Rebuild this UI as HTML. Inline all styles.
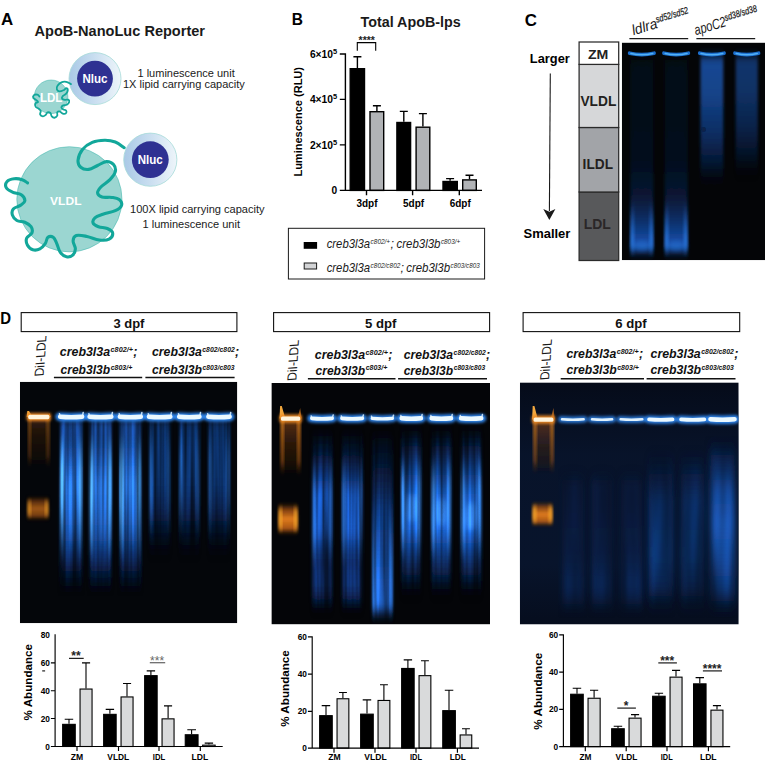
<!DOCTYPE html>
<html lang="en"><head><meta charset="utf-8"><title>ApoB-NanoLuc Reporter figure</title>
<style>
html,body{margin:0;padding:0;background:#fff;}
body{width:765px;height:761px;overflow:hidden;}
svg{display:block;font-family:"Liberation Sans", "DejaVu Sans", sans-serif;}
</style></head><body>
<svg width="765" height="761" viewBox="0 0 765 761">
<rect width="765" height="761" fill="#fff"/>

<defs>
<radialGradient id="halo" cx="50%" cy="50%" r="50%">
  <stop offset="0" stop-color="#9fc3e6"/><stop offset="0.62" stop-color="#b7d3ec"/>
  <stop offset="0.85" stop-color="#dbe9f5"/><stop offset="1" stop-color="#eef6fa"/>
</radialGradient>
<filter id="b1" x="-20%" y="-20%" width="140%" height="140%"><feGaussianBlur stdDeviation="0.6"/></filter>
<filter id="b2" x="-30%" y="-30%" width="160%" height="160%"><feGaussianBlur stdDeviation="1.4"/></filter>
<filter id="b3" x="-30%" y="-30%" width="160%" height="160%"><feGaussianBlur stdDeviation="2.5"/></filter>
<filter id="b4" x="-40%" y="-40%" width="180%" height="180%"><feGaussianBlur stdDeviation="4"/></filter>
<filter id="bx" x="-40%" y="-10%" width="180%" height="120%"><feGaussianBlur stdDeviation="1.7 5"/></filter>
<filter id="u1" filterUnits="userSpaceOnUse" x="0" y="370" width="765" height="270"><feGaussianBlur stdDeviation="0.7"/></filter>
<filter id="u2" filterUnits="userSpaceOnUse" x="0" y="370" width="765" height="270"><feGaussianBlur stdDeviation="1.8"/></filter>
<filter id="uc1" filterUnits="userSpaceOnUse" x="615" y="35" width="150" height="235"><feGaussianBlur stdDeviation="0.6"/></filter>
<filter id="bx3" x="-60%" y="-10%" width="220%" height="120%"><feGaussianBlur stdDeviation="3.2 6"/></filter>
<filter id="streak" x="-2%" y="-2%" width="104%" height="104%" color-interpolation-filters="sRGB">
 <feTurbulence type="fractalNoise" baseFrequency="0.22 0.004" numOctaves="2" seed="7" result="n"/>
 <feColorMatrix in="n" type="matrix" values="2.2 0 0 0 -0.6  2.2 0 0 0 -0.6  2.2 0 0 0 -0.6  0 0 0 0 1" result="ng"/>
 <feComposite in="SourceGraphic" in2="ng" operator="arithmetic" k1="0.9" k2="0.55" k3="0" k4="0"/>
</filter>
<filter id="streak3" x="-2%" y="-2%" width="104%" height="104%" color-interpolation-filters="sRGB">
 <feTurbulence type="fractalNoise" baseFrequency="0.07 0.006" numOctaves="2" seed="11" result="n"/>
 <feColorMatrix in="n" type="matrix" values="1.6 0 0 0 -0.3  1.6 0 0 0 -0.3  1.6 0 0 0 -0.3  0 0 0 0 1" result="ng"/>
 <feComposite in="SourceGraphic" in2="ng" operator="arithmetic" k1="0.7" k2="0.65" k3="0" k4="0"/>
</filter>
</defs>

<defs><linearGradient id="haloL" x1="0" y1="0" x2="1" y2="0">
<stop offset="0" stop-color="#a9c9e6"/><stop offset="0.45" stop-color="#c6dcef"/><stop offset="1" stop-color="#eef5fa"/>
</linearGradient></defs>
<text x="1.0" y="25.3" font-size="16.50" font-weight="bold" font-style="normal" fill="#000" text-anchor="start" textLength="12.2" lengthAdjust="spacingAndGlyphs" >A</text>
<text x="34.5" y="36.3" font-size="15.00" font-weight="bold" font-style="normal" fill="#1a1a1a" text-anchor="start" textLength="170.5" lengthAdjust="spacingAndGlyphs" >ApoB-NanoLuc Reporter</text>
<circle cx="51.1" cy="96.8" r="16.8" fill="#9bd6d1" stroke="#3bb5aa" stroke-width="0.5"/>
<circle cx="95" cy="78.6" r="26" fill="url(#haloL)" stroke="#a6dbd8" stroke-width="0.8"/>
<circle cx="95" cy="78.6" r="17.9" fill="#2e3192"/>
<path d="M70.98 84.12 C70.05 83.67 68.03 82.13 66.17 81.78 C64.32 81.44 63.02 81.62 61.37 82.33 C59.73 83.05 58.54 84.16 57.67 85.49 C56.79 86.82 56.52 88.05 56.84 89.19 C57.16 90.34 58.04 91.18 59.31 91.39 C60.59 91.60 62.10 90.90 63.43 90.29 C64.76 89.68 65.33 88.23 66.17 88.23 C67.02 88.23 67.82 89.23 67.82 90.29 C67.82 91.35 67.16 92.61 66.17 93.72 C65.19 94.84 63.54 95.08 62.74 96.06 C61.95 97.04 61.66 98.06 62.06 98.80 C62.46 99.54 63.61 99.74 64.80 99.90 C66.00 100.06 67.38 99.23 68.23 99.63 C69.08 100.02 69.46 100.98 69.19 101.96 C68.93 102.94 68.03 104.04 66.86 104.70 C65.69 105.37 64.22 104.86 63.16 105.39 C62.09 105.92 61.32 106.65 61.37 107.45 C61.42 108.24 62.50 108.90 63.43 109.51 C64.36 110.12 65.70 109.86 66.17 110.61 C66.65 111.35 66.56 112.77 65.90 113.35 C65.24 113.93 63.88 113.97 62.74 113.62 C61.60 113.28 61.06 111.83 60.00 111.57 C58.94 111.30 57.78 111.46 57.25 112.25 C56.72 113.05 57.78 114.62 57.25 115.68 C56.72 116.74 55.57 117.61 54.51 117.74 C53.45 117.87 52.56 117.30 51.76 116.37 C50.97 115.44 51.19 113.73 50.39 112.94 C49.60 112.14 48.57 111.85 47.65 112.25 C46.72 112.65 46.52 114.20 45.59 115.00 C44.66 115.79 43.90 116.50 42.84 116.37 C41.78 116.24 40.50 115.37 40.10 114.31 C39.70 113.25 41.05 111.94 40.78 110.88 C40.52 109.82 39.71 109.62 38.72 108.82 C37.74 108.02 36.37 107.82 35.71 106.76 C35.04 105.70 34.84 104.26 35.29 103.33 C35.74 102.40 37.91 102.62 38.04 101.96 C38.17 101.30 36.91 100.70 35.98 99.90 C35.05 99.10 33.63 98.77 33.23 97.84 C32.84 96.91 33.13 95.71 33.92 95.10 C34.72 94.49 36.29 94.42 37.35 94.68 C38.41 94.95 39.01 96.12 39.41 96.47" fill="none" stroke="#12a79a" stroke-width="1.8" stroke-linecap="round" stroke-linejoin="round"/>
<text x="51.2" y="102.3" font-size="12.30" font-weight="bold" font-style="normal" fill="#fff" text-anchor="middle" textLength="22.5" lengthAdjust="spacingAndGlyphs" >LDL</text>
<text x="95.0" y="82.6" font-size="12.00" font-weight="bold" font-style="normal" fill="#fff" text-anchor="middle" textLength="25.0" lengthAdjust="spacingAndGlyphs" >Nluc</text>
<text x="137.5" y="76.6" font-size="10.80" font-weight="normal" font-style="normal" fill="#1a1a1a" text-anchor="start" textLength="97.2" lengthAdjust="spacingAndGlyphs" >1 luminescence unit</text>
<text x="123.0" y="88.4" font-size="10.80" font-weight="normal" font-style="normal" fill="#1a1a1a" text-anchor="start" textLength="121.8" lengthAdjust="spacingAndGlyphs" >1X lipid carrying capacity</text>
<circle cx="69.4" cy="199.3" r="52.6" fill="#9bd6d1" stroke="#3bb5aa" stroke-width="0.5"/>
<circle cx="150.3" cy="159.7" r="26.6" fill="url(#haloL)" stroke="#a6dbd8" stroke-width="0.8"/>
<circle cx="150.3" cy="159.7" r="18.4" fill="#2e3192"/>
<path d="M124.18 147.74 C122.46 146.64 119.08 143.50 115.31 142.06 C111.54 140.62 109.12 140.22 104.67 140.29 C100.21 140.36 96.53 140.63 92.25 142.42 C87.96 144.20 85.23 146.08 82.49 149.51 C79.75 152.94 78.40 156.73 78.06 160.16 C77.71 163.59 78.66 165.47 80.72 167.25 C82.77 169.04 85.44 169.73 88.70 169.38 C91.96 169.04 94.14 166.99 97.57 165.48 C101.00 163.97 103.35 161.75 106.44 161.58 C109.53 161.41 111.82 162.64 113.54 164.59 C115.25 166.55 116.00 168.77 115.31 171.69 C114.62 174.60 112.73 176.76 109.99 179.67 C107.24 182.59 103.52 184.20 101.12 186.77 C98.72 189.34 97.40 190.99 97.57 192.98 C97.74 194.97 99.26 196.20 102.00 197.06 C104.75 197.91 108.43 196.93 111.76 197.41 C115.09 197.89 117.33 198.00 119.21 199.54 C121.10 201.08 122.27 203.23 121.52 205.39 C120.76 207.56 118.91 209.00 115.31 210.72 C111.71 212.43 106.84 212.89 102.89 214.26 C98.95 215.64 96.79 216.10 94.91 217.81 C93.02 219.53 92.45 221.42 93.13 223.13 C93.82 224.85 95.71 225.65 98.46 226.68 C101.20 227.71 104.58 227.26 107.33 228.46 C110.07 229.66 112.31 230.83 112.65 232.89 C112.99 234.95 111.67 237.73 109.10 239.10 C106.53 240.47 103.63 240.50 99.34 239.99 C95.06 239.47 91.38 237.30 86.93 236.44 C82.47 235.58 78.96 234.70 76.28 235.55 C73.61 236.41 73.26 238.30 73.09 240.87 C72.92 243.45 75.46 246.11 75.39 248.86 C75.33 251.60 74.45 253.52 72.73 255.07 C71.02 256.61 68.93 257.35 66.52 256.84 C64.12 256.33 62.20 254.98 60.32 252.41 C58.43 249.83 58.14 246.45 56.77 243.54 C55.40 240.62 54.93 238.53 53.22 237.33 C51.50 236.13 49.44 236.13 47.90 237.33 C46.35 238.53 46.78 241.31 45.24 243.54 C43.69 245.76 42.32 247.66 39.91 248.86 C37.51 250.06 35.22 250.43 32.82 249.74 C30.42 249.06 28.70 247.54 27.50 245.31 C26.30 243.08 25.75 240.61 26.61 238.21 C27.47 235.81 31.07 235.12 31.93 232.89 C32.79 230.66 32.42 228.74 31.04 226.68 C29.67 224.62 27.58 223.45 24.84 222.25 C22.09 221.05 19.25 221.85 16.85 220.47 C14.45 219.10 13.10 217.38 12.42 215.15 C11.73 212.92 11.76 210.83 13.30 208.94 C14.85 207.06 18.17 206.94 20.40 205.39 C22.63 203.85 24.66 203.02 24.84 200.96 C25.01 198.90 23.69 196.47 21.29 194.75 C18.89 193.04 15.33 193.46 12.42 192.09 C9.50 190.72 7.24 189.71 6.21 187.65 C5.18 185.60 5.55 183.16 7.10 181.45 C8.64 179.73 11.28 179.13 14.19 178.78 C17.11 178.44 19.60 178.88 22.17 179.67 C24.75 180.46 26.47 182.25 27.50 182.86" fill="none" stroke="#12a79a" stroke-width="3.1" stroke-linecap="round" stroke-linejoin="round"/>
<text x="65.8" y="204.9" font-size="11.70" font-weight="bold" font-style="normal" fill="#fff" text-anchor="middle" textLength="31.4" lengthAdjust="spacingAndGlyphs" >VLDL</text>
<text x="150.3" y="163.8" font-size="12.00" font-weight="bold" font-style="normal" fill="#fff" text-anchor="middle" textLength="25.0" lengthAdjust="spacingAndGlyphs" >Nluc</text>
<text x="130.0" y="212.8" font-size="10.80" font-weight="normal" font-style="normal" fill="#1a1a1a" text-anchor="start" textLength="134.6" lengthAdjust="spacingAndGlyphs" >100X lipid carrying capacity</text>
<text x="142.5" y="227.6" font-size="10.80" font-weight="normal" font-style="normal" fill="#1a1a1a" text-anchor="start" textLength="97.5" lengthAdjust="spacingAndGlyphs" >1 luminescence unit</text>
<text x="291.8" y="25.3" font-size="16.50" font-weight="bold" font-style="normal" fill="#000" text-anchor="start" textLength="11.2" lengthAdjust="spacingAndGlyphs" >B</text>
<text x="360.5" y="26.6" font-size="13.80" font-weight="bold" font-style="normal" fill="#1a1a1a" text-anchor="start" textLength="100.2" lengthAdjust="spacingAndGlyphs" >Total ApoB-lps</text>
<path d="M357.4 68.0 V56.8 M353.4 56.8 H361.4" stroke="#000" stroke-width="1.40" fill="none"/>
<rect x="350.20" y="68.70" width="14.30" height="121.70" fill="#000" stroke="#000" stroke-width="1.40"/>
<path d="M376.9 111.0 V105.7 M372.9 105.7 H380.9" stroke="#000" stroke-width="1.40" fill="none"/>
<rect x="370.00" y="111.70" width="13.70" height="78.70" fill="#b1b3b6" stroke="#000" stroke-width="1.40"/>
<path d="M403.8 121.8 V111.4 M399.8 111.4 H407.8" stroke="#000" stroke-width="1.40" fill="none"/>
<rect x="396.90" y="122.50" width="13.70" height="67.90" fill="#000" stroke="#000" stroke-width="1.40"/>
<path d="M422.9 126.5 V113.6 M418.9 113.6 H426.9" stroke="#000" stroke-width="1.40" fill="none"/>
<rect x="416.10" y="127.20" width="13.70" height="63.20" fill="#b1b3b6" stroke="#000" stroke-width="1.40"/>
<path d="M450.1 180.8 V178.6 M446.1 178.6 H454.1" stroke="#000" stroke-width="1.40" fill="none"/>
<rect x="443.00" y="181.50" width="14.30" height="8.90" fill="#000" stroke="#000" stroke-width="1.40"/>
<path d="M469.5 179.2 V175.3 M465.5 175.3 H473.5" stroke="#000" stroke-width="1.40" fill="none"/>
<rect x="462.70" y="179.90" width="13.60" height="10.50" fill="#b1b3b6" stroke="#000" stroke-width="1.40"/>
<path d="M345.4 53.3 V190.4 M339.8 190.4 H482 M339.8 54 H345.4 M339.8 99.4 H345.4 M339.8 144.9 H345.4 M366.5 190.4 V195.2 M412.6 190.4 V195.2 M459.3 190.4 V195.2" stroke="#000" stroke-width="1.4" fill="none"/>
<text x="337.2" y="57.6" font-size="10.2" font-weight="bold" text-anchor="end" textLength="27.3" lengthAdjust="spacingAndGlyphs">6×10<tspan font-size="7.4" dy="-3.8">5</tspan></text>
<text x="337.2" y="103.0" font-size="10.2" font-weight="bold" text-anchor="end" textLength="27.3" lengthAdjust="spacingAndGlyphs">4×10<tspan font-size="7.4" dy="-3.8">5</tspan></text>
<text x="337.2" y="148.5" font-size="10.2" font-weight="bold" text-anchor="end" textLength="27.3" lengthAdjust="spacingAndGlyphs">2×10<tspan font-size="7.4" dy="-3.8">5</tspan></text>
<text x="337.2" y="194.2" font-size="10.20" font-weight="bold" font-style="normal" fill="#000" text-anchor="end" >0</text>
<text x="356.4" y="207.4" font-size="10.50" font-weight="bold" font-style="normal" fill="#000" text-anchor="start" textLength="21.1" lengthAdjust="spacingAndGlyphs" >3dpf</text>
<text x="403.0" y="207.4" font-size="10.50" font-weight="bold" font-style="normal" fill="#000" text-anchor="start" textLength="21.1" lengthAdjust="spacingAndGlyphs" >5dpf</text>
<text x="449.7" y="207.4" font-size="10.50" font-weight="bold" font-style="normal" fill="#000" text-anchor="start" textLength="21.1" lengthAdjust="spacingAndGlyphs" >6dpf</text>
<text transform="translate(302.3 176.6) rotate(-90)" font-size="11" font-weight="bold" textLength="109.6" lengthAdjust="spacingAndGlyphs">Luminescence (RLU)</text>
<path d="M357.3 50.8 V42.6 H375.7 V50.8" stroke="#000" stroke-width="1.1" fill="none"/>
<text x="366.7" y="43.8" font-size="10.40" font-weight="bold" font-style="normal" fill="#222" text-anchor="middle" >****</text>
<rect x="288.4" y="228.3" width="196.2" height="50.7" fill="#fff" stroke="#1a1a1a" stroke-width="1"/>
<rect x="303.7" y="242.0" width="13.4" height="6.8" fill="#000"/>
<rect x="304.2" y="263.0" width="12.4" height="6.0" fill="#d3d4d6" stroke="#1a1a1a" stroke-width="1"/>
<text y="248.3" font-style="italic" font-weight="normal" fill="#1a1a1a" font-size="12.4"><tspan x="326.7" textLength="43.4" lengthAdjust="spacingAndGlyphs">creb3l3a</tspan><tspan x="370.6" dy="-4.2" font-size="7.2" textLength="19.5" lengthAdjust="spacingAndGlyphs">c802/+</tspan><tspan x="390.4" dy="4.2">;</tspan><tspan x="396.5" textLength="43.9" lengthAdjust="spacingAndGlyphs">creb3l3b</tspan><tspan x="440.9" dy="-4.2" font-size="7.2" textLength="19.3" lengthAdjust="spacingAndGlyphs">c803/+</tspan></text>
<text y="272.2" font-style="italic" font-weight="normal" fill="#1a1a1a" font-size="12.4"><tspan x="326.7" textLength="43.4" lengthAdjust="spacingAndGlyphs">creb3l3a</tspan><tspan x="370.6" dy="-4.2" font-size="7.2" textLength="29.7" lengthAdjust="spacingAndGlyphs">c802/c802</tspan><tspan x="400.6" dy="4.2">;</tspan><tspan x="406.2" textLength="43.9" lengthAdjust="spacingAndGlyphs">creb3l3b</tspan><tspan x="450.6" dy="-4.2" font-size="7.2" textLength="29.1" lengthAdjust="spacingAndGlyphs">c803/c803</tspan></text>
<text x="524.8" y="25.5" font-size="16.50" font-weight="bold" font-style="normal" fill="#000" text-anchor="start" textLength="12.2" lengthAdjust="spacingAndGlyphs" >C</text>
<text x="529.8" y="62.9" font-size="12.40" font-weight="bold" font-style="normal" fill="#000" text-anchor="start" textLength="40.0" lengthAdjust="spacingAndGlyphs" >Larger</text>
<text x="523.5" y="238.0" font-size="12.40" font-weight="bold" font-style="normal" fill="#000" text-anchor="start" textLength="46.9" lengthAdjust="spacingAndGlyphs" >Smaller</text>
<path d="M550.3 73.4 L549.4 211" stroke="#1a1a1a" stroke-width="1.1" fill="none"/>
<path d="M543.3 209.0 L549.35 211.8 L555.4 209.0 L549.35 219.9 Z" fill="#1a1a1a"/>
<rect x="579.1" y="192.0" width="39.6" height="68.5" fill="#58595b" stroke="#2a2a2a" stroke-width="1.25"/>
<rect x="579.1" y="127.5" width="39.6" height="64.5" fill="#a2a4a8" stroke="#2a2a2a" stroke-width="1.25"/>
<rect x="579.1" y="64.4" width="39.6" height="63.1" fill="#d6d7d9" stroke="#2a2a2a" stroke-width="1.25"/>
<rect x="579.1" y="42.0" width="39.6" height="22.4" fill="#ffffff" stroke="#2a2a2a" stroke-width="1.25"/>
<text x="598.1" y="58.5" font-size="13.40" font-weight="bold" font-style="normal" fill="#222" text-anchor="middle" textLength="20.4" lengthAdjust="spacingAndGlyphs" >ZM</text>
<text x="598.4" y="106.2" font-size="14.40" font-weight="bold" font-style="normal" fill="#231f20" text-anchor="middle" textLength="35.9" lengthAdjust="spacingAndGlyphs" >VLDL</text>
<text x="597.8" y="168.6" font-size="14.40" font-weight="bold" font-style="normal" fill="#231f20" text-anchor="middle" textLength="30.4" lengthAdjust="spacingAndGlyphs" >ILDL</text>
<text x="597.2" y="229.0" font-size="14.40" font-weight="bold" font-style="normal" fill="#2a2627" text-anchor="middle" textLength="27.1" lengthAdjust="spacingAndGlyphs" >LDL</text>
<path d="M629.4 38.6 H688.2 M696.4 38.6 H755.2" stroke="#1a1a1a" stroke-width="1.3" fill="none"/>
<text transform="translate(633.4 35.3) rotate(-16.8)" font-style="italic" font-size="14.5" fill="#1a1a1a"><tspan textLength="26" lengthAdjust="spacingAndGlyphs">ldlra</tspan><tspan dy="-5.2" font-size="9.6" stroke="#1a1a1a" stroke-width="0.25" textLength="33.5" lengthAdjust="spacingAndGlyphs">sd52/sd52</tspan></text>
<text transform="translate(695.8 35.3) rotate(-16.8)" font-style="italic" font-size="14.5" fill="#1a1a1a"><tspan textLength="32.6" lengthAdjust="spacingAndGlyphs">apoC2</tspan><tspan dy="-5.2" font-size="9.6" stroke="#1a1a1a" stroke-width="0.25" textLength="33.5" lengthAdjust="spacingAndGlyphs">sd38/sd38</tspan></text>
<defs>
<clipPath id="clipC"><rect x="621.8" y="42.6" width="143.2" height="217.6"/></clipPath>
<linearGradient id="cL" x1="0" y1="0" x2="0" y2="1">
 <stop offset="0" stop-color="#0a1428" stop-opacity="0.45"/><stop offset="0.5" stop-color="#0a1630" stop-opacity="0.5"/>
 <stop offset="0.7" stop-color="#0b2250" stop-opacity="0.6"/><stop offset="0.84" stop-color="#0f3a80" stop-opacity="0.85"/>
 <stop offset="0.95" stop-color="#1650b0" stop-opacity="1"/><stop offset="1" stop-color="#0c2c66" stop-opacity="0.6"/>
</linearGradient>
<linearGradient id="cE" x1="0" y1="0" x2="0" y2="1">
 <stop offset="0" stop-color="#2a78e0" stop-opacity="0"/><stop offset="0.55" stop-color="#2a78e0" stop-opacity="0.7"/>
 <stop offset="0.9" stop-color="#2f84ec" stop-opacity="0.9"/><stop offset="1" stop-color="#2a78e0" stop-opacity="0"/>
</linearGradient>
<linearGradient id="cR" x1="0" y1="0" x2="0" y2="1">
 <stop offset="0" stop-color="#174c9c" stop-opacity="0.95"/><stop offset="0.3" stop-color="#15468f" stop-opacity="0.95"/>
 <stop offset="0.6" stop-color="#0e3472" stop-opacity="0.85"/><stop offset="0.82" stop-color="#082452" stop-opacity="0.6"/>
 <stop offset="1" stop-color="#040d20" stop-opacity="0"/>
</linearGradient>
</defs>
<g clip-path="url(#clipC)">
<rect x="621.8" y="42.6" width="143.2" height="217.6" fill="#040507"/>
<rect x="630.4" y="60" width="22.9" height="194" fill="url(#cL)" filter="url(#bx)"/>
<rect x="630.6" y="203" width="3.4" height="49" fill="url(#cE)" filter="url(#bx)"/>
<rect x="649.7" y="203" width="3.4" height="49" fill="url(#cE)" filter="url(#bx)"/>
<ellipse cx="641.8" cy="246" rx="9.9" ry="5" fill="#2a7ae2" opacity="0.6" filter="url(#b3)"/>
<rect x="664.7" y="60" width="22.9" height="194" fill="url(#cL)" filter="url(#bx)"/>
<rect x="664.9" y="203" width="3.4" height="49" fill="url(#cE)" filter="url(#bx)"/>
<rect x="684.0" y="203" width="3.4" height="49" fill="url(#cE)" filter="url(#bx)"/>
<ellipse cx="676.2" cy="246" rx="9.9" ry="5" fill="#2a7ae2" opacity="0.6" filter="url(#b3)"/>
<rect x="700.5" y="56" width="22.8" height="130" fill="url(#cR)" opacity="1.00" filter="url(#bx)"/>
<rect x="735.7" y="56" width="22.1" height="120" fill="url(#cR)" opacity="0.72" filter="url(#bx)"/>
<g filter="url(#uc1)">
<path d="M629.6 53.2 Q641.8 56.0 654.1 53.2" stroke="#1c6fd0" stroke-width="3.6" fill="none" stroke-linecap="round"/>
<path d="M630.9 53.6 Q641.8 56.0 652.8 53.6" stroke="#52b0f4" stroke-width="1.5" fill="none" stroke-linecap="round"/>
<path d="M663.9 53.2 Q676.2 56.0 688.4 53.2" stroke="#1c6fd0" stroke-width="3.6" fill="none" stroke-linecap="round"/>
<path d="M665.2 53.6 Q676.2 56.0 687.1 53.6" stroke="#52b0f4" stroke-width="1.5" fill="none" stroke-linecap="round"/>
<path d="M699.7 53.2 Q711.9 56.0 724.1 53.2" stroke="#1c6fd0" stroke-width="3.6" fill="none" stroke-linecap="round"/>
<path d="M701.0 53.6 Q711.9 56.0 722.8 53.6" stroke="#52b0f4" stroke-width="1.5" fill="none" stroke-linecap="round"/>
<path d="M734.9 53.2 Q746.8 56.0 758.6 53.2" stroke="#1c6fd0" stroke-width="3.6" fill="none" stroke-linecap="round"/>
<path d="M736.2 53.6 Q746.8 56.0 757.3 53.6" stroke="#52b0f4" stroke-width="1.5" fill="none" stroke-linecap="round"/>
</g>
<circle cx="703.6" cy="129.5" r="2.4" fill="#08204a" opacity="0.95" filter="url(#b1)"/>
</g>
<text x="0.3" y="323.5" font-size="16.50" font-weight="bold" font-style="normal" fill="#000" text-anchor="start" textLength="10.8" lengthAdjust="spacingAndGlyphs" >D</text>
<rect x="21.2" y="312.6" width="215.7" height="19" fill="#fff" stroke="#111" stroke-width="1.1"/>
<text x="113.4" y="327.8" font-size="13.40" font-weight="bold" font-style="normal" fill="#111" text-anchor="start" textLength="31.0" lengthAdjust="spacingAndGlyphs" >3 dpf</text>
<text transform="translate(43.6 376.1) rotate(-86) skewX(8)" font-size="13" fill="#1a1a1a" textLength="40.7" lengthAdjust="spacingAndGlyphs">DiI-LDL</text>
<text y="356.0" font-style="italic" font-weight="bold" fill="#111" font-size="12.6"><tspan x="59.8" textLength="50.3" lengthAdjust="spacingAndGlyphs">creb3l3a</tspan><tspan x="110.6" dy="-4.2" font-size="7.2" textLength="22.3" lengthAdjust="spacingAndGlyphs">c802/+</tspan><tspan x="133.2" dy="4.2">;</tspan></text>
<text y="373.9" font-style="italic" font-weight="bold" fill="#111" font-size="12.6"><tspan x="60.5" textLength="49.6" lengthAdjust="spacingAndGlyphs">creb3l3b</tspan><tspan x="110.7" dy="-4.4" font-size="7.2" textLength="21.6" lengthAdjust="spacingAndGlyphs">c803/+</tspan></text>
<text y="356.0" font-style="italic" font-weight="bold" fill="#111" font-size="12.6"><tspan x="152.0" textLength="49.8" lengthAdjust="spacingAndGlyphs">creb3l3a</tspan><tspan x="202.3" dy="-4.2" font-size="7.2" textLength="32.5" lengthAdjust="spacingAndGlyphs">c802/c802</tspan><tspan x="235.1" dy="4.2">;</tspan></text>
<text y="373.9" font-style="italic" font-weight="bold" fill="#111" font-size="12.6"><tspan x="152.0" textLength="50.0" lengthAdjust="spacingAndGlyphs">creb3l3b</tspan><tspan x="202.6" dy="-4.4" font-size="7.2" textLength="31.8" lengthAdjust="spacingAndGlyphs">c803/c803</tspan></text>
<path d="M53.9 377.5 H142.2 M145.4 377.5 H234.6" stroke="#111" stroke-width="1.4" fill="none"/>
<rect x="273.6" y="312.6" width="216.0" height="19" fill="#fff" stroke="#111" stroke-width="1.1"/>
<text x="365.1" y="327.8" font-size="13.40" font-weight="bold" font-style="normal" fill="#111" text-anchor="start" textLength="31.4" lengthAdjust="spacingAndGlyphs" >5 dpf</text>
<text transform="translate(296.2 380.5) rotate(-86) skewX(8)" font-size="13" fill="#1a1a1a" textLength="40.7" lengthAdjust="spacingAndGlyphs">DiI-LDL</text>
<text y="358.8" font-style="italic" font-weight="bold" fill="#111" font-size="12.6"><tspan x="314.8" textLength="50.3" lengthAdjust="spacingAndGlyphs">creb3l3a</tspan><tspan x="365.6" dy="-4.2" font-size="7.2" textLength="22.3" lengthAdjust="spacingAndGlyphs">c802/+</tspan><tspan x="388.2" dy="4.2">;</tspan></text>
<text y="374.5" font-style="italic" font-weight="bold" fill="#111" font-size="12.6"><tspan x="315.5" textLength="49.6" lengthAdjust="spacingAndGlyphs">creb3l3b</tspan><tspan x="365.7" dy="-4.4" font-size="7.2" textLength="21.6" lengthAdjust="spacingAndGlyphs">c803/+</tspan></text>
<text y="358.8" font-style="italic" font-weight="bold" fill="#111" font-size="12.6"><tspan x="403.7" textLength="49.4" lengthAdjust="spacingAndGlyphs">creb3l3a</tspan><tspan x="453.6" dy="-4.2" font-size="7.2" textLength="32.2" lengthAdjust="spacingAndGlyphs">c802/c802</tspan><tspan x="486.1" dy="4.2">;</tspan></text>
<text y="374.5" font-style="italic" font-weight="bold" fill="#111" font-size="12.6"><tspan x="403.7" textLength="49.4" lengthAdjust="spacingAndGlyphs">creb3l3b</tspan><tspan x="453.7" dy="-4.4" font-size="7.2" textLength="31.5" lengthAdjust="spacingAndGlyphs">c803/c803</tspan></text>
<path d="M307.9 378.8 H395.5 M398.1 378.8 H487.0" stroke="#111" stroke-width="1.4" fill="none"/>
<rect x="523.1" y="312.6" width="216.6" height="19" fill="#fff" stroke="#111" stroke-width="1.1"/>
<text x="615.2" y="327.8" font-size="13.40" font-weight="bold" font-style="normal" fill="#111" text-anchor="start" textLength="31.4" lengthAdjust="spacingAndGlyphs" >6 dpf</text>
<text transform="translate(549.1 379.8) rotate(-86) skewX(8)" font-size="13" fill="#1a1a1a" textLength="40.8" lengthAdjust="spacingAndGlyphs">DiI-LDL</text>
<text y="358.2" font-style="italic" font-weight="bold" fill="#111" font-size="12.6"><tspan x="566.5" textLength="49.7" lengthAdjust="spacingAndGlyphs">creb3l3a</tspan><tspan x="616.7" dy="-4.2" font-size="7.2" textLength="22.0" lengthAdjust="spacingAndGlyphs">c802/+</tspan><tspan x="639.0" dy="4.2">;</tspan></text>
<text y="374.3" font-style="italic" font-weight="bold" fill="#111" font-size="12.6"><tspan x="566.5" textLength="50.1" lengthAdjust="spacingAndGlyphs">creb3l3b</tspan><tspan x="617.2" dy="-4.4" font-size="7.2" textLength="21.8" lengthAdjust="spacingAndGlyphs">c803/+</tspan></text>
<text y="358.2" font-style="italic" font-weight="bold" fill="#111" font-size="12.6"><tspan x="650.5" textLength="50.2" lengthAdjust="spacingAndGlyphs">creb3l3a</tspan><tspan x="701.2" dy="-4.2" font-size="7.2" textLength="32.7" lengthAdjust="spacingAndGlyphs">c802/c802</tspan><tspan x="734.2" dy="4.2">;</tspan></text>
<text y="374.3" font-style="italic" font-weight="bold" fill="#111" font-size="12.6"><tspan x="650.5" textLength="50.5" lengthAdjust="spacingAndGlyphs">creb3l3b</tspan><tspan x="701.6" dy="-4.4" font-size="7.2" textLength="32.1" lengthAdjust="spacingAndGlyphs">c803/c803</tspan></text>
<path d="M560.7 378.8 H644.0 M646.6 378.8 H735.5" stroke="#111" stroke-width="1.4" fill="none"/>
<defs><linearGradient id="vg1" x1="0" y1="0" x2="0" y2="1"><stop offset="0.000" stop-color="#5cbafa" stop-opacity="0.00"/><stop offset="0.300" stop-color="#5cbafa" stop-opacity="1.00"/><stop offset="0.520" stop-color="#5cbafa" stop-opacity="1.00"/><stop offset="1.000" stop-color="#5cbafa" stop-opacity="0.00"/></linearGradient></defs>
<defs><linearGradient id="vg2" x1="0" y1="0" x2="0" y2="1"><stop offset="0.000" stop-color="#5cbafa" stop-opacity="0.00"/><stop offset="0.300" stop-color="#5cbafa" stop-opacity="0.75"/><stop offset="0.520" stop-color="#5cbafa" stop-opacity="0.75"/><stop offset="1.000" stop-color="#5cbafa" stop-opacity="0.00"/></linearGradient></defs>
<defs><linearGradient id="vg3" x1="0" y1="0" x2="0" y2="1"><stop offset="0.000" stop-color="#2d7be0" stop-opacity="0.00"/><stop offset="0.250" stop-color="#2d7be0" stop-opacity="0.35"/><stop offset="0.750" stop-color="#2d7be0" stop-opacity="0.35"/><stop offset="1.000" stop-color="#2d7be0" stop-opacity="0.00"/></linearGradient></defs>
<defs><linearGradient id="vg4" x1="0" y1="0" x2="0" y2="1"><stop offset="0.000" stop-color="#5cbafa" stop-opacity="0.00"/><stop offset="0.300" stop-color="#5cbafa" stop-opacity="1.00"/><stop offset="0.520" stop-color="#5cbafa" stop-opacity="1.00"/><stop offset="1.000" stop-color="#5cbafa" stop-opacity="0.00"/></linearGradient></defs>
<defs><linearGradient id="vg5" x1="0" y1="0" x2="0" y2="1"><stop offset="0.000" stop-color="#5cbafa" stop-opacity="0.00"/><stop offset="0.300" stop-color="#5cbafa" stop-opacity="0.75"/><stop offset="0.520" stop-color="#5cbafa" stop-opacity="0.75"/><stop offset="1.000" stop-color="#5cbafa" stop-opacity="0.00"/></linearGradient></defs>
<defs><linearGradient id="vg6" x1="0" y1="0" x2="0" y2="1"><stop offset="0.000" stop-color="#2d7be0" stop-opacity="0.00"/><stop offset="0.250" stop-color="#2d7be0" stop-opacity="0.35"/><stop offset="0.750" stop-color="#2d7be0" stop-opacity="0.35"/><stop offset="1.000" stop-color="#2d7be0" stop-opacity="0.00"/></linearGradient></defs>
<defs><linearGradient id="vg7" x1="0" y1="0" x2="0" y2="1"><stop offset="0.000" stop-color="#5cbafa" stop-opacity="0.00"/><stop offset="0.300" stop-color="#5cbafa" stop-opacity="1.00"/><stop offset="0.520" stop-color="#5cbafa" stop-opacity="1.00"/><stop offset="1.000" stop-color="#5cbafa" stop-opacity="0.00"/></linearGradient></defs>
<defs><linearGradient id="vg8" x1="0" y1="0" x2="0" y2="1"><stop offset="0.000" stop-color="#5cbafa" stop-opacity="0.00"/><stop offset="0.300" stop-color="#5cbafa" stop-opacity="0.75"/><stop offset="0.520" stop-color="#5cbafa" stop-opacity="0.75"/><stop offset="1.000" stop-color="#5cbafa" stop-opacity="0.00"/></linearGradient></defs>
<defs><linearGradient id="vg9" x1="0" y1="0" x2="0" y2="1"><stop offset="0.000" stop-color="#2d7be0" stop-opacity="0.00"/><stop offset="0.250" stop-color="#2d7be0" stop-opacity="0.35"/><stop offset="0.750" stop-color="#2d7be0" stop-opacity="0.35"/><stop offset="1.000" stop-color="#2d7be0" stop-opacity="0.00"/></linearGradient></defs>
<defs><linearGradient id="vg10" x1="0" y1="0" x2="0" y2="1"><stop offset="0.000" stop-color="#2f7ede" stop-opacity="0.00"/><stop offset="0.300" stop-color="#2f7ede" stop-opacity="0.60"/><stop offset="0.600" stop-color="#2f7ede" stop-opacity="0.60"/><stop offset="1.000" stop-color="#2f7ede" stop-opacity="0.00"/></linearGradient></defs>
<defs><linearGradient id="vg11" x1="0" y1="0" x2="0" y2="1"><stop offset="0.000" stop-color="#2f7ede" stop-opacity="0.00"/><stop offset="0.300" stop-color="#2f7ede" stop-opacity="0.48"/><stop offset="0.600" stop-color="#2f7ede" stop-opacity="0.48"/><stop offset="1.000" stop-color="#2f7ede" stop-opacity="0.00"/></linearGradient></defs>
<defs><linearGradient id="vg12" x1="0" y1="0" x2="0" y2="1"><stop offset="0.000" stop-color="#2f7ede" stop-opacity="0.00"/><stop offset="0.300" stop-color="#2f7ede" stop-opacity="0.60"/><stop offset="0.600" stop-color="#2f7ede" stop-opacity="0.60"/><stop offset="1.000" stop-color="#2f7ede" stop-opacity="0.00"/></linearGradient></defs>
<defs><linearGradient id="vg13" x1="0" y1="0" x2="0" y2="1"><stop offset="0.000" stop-color="#2f7ede" stop-opacity="0.00"/><stop offset="0.300" stop-color="#2f7ede" stop-opacity="0.48"/><stop offset="0.600" stop-color="#2f7ede" stop-opacity="0.48"/><stop offset="1.000" stop-color="#2f7ede" stop-opacity="0.00"/></linearGradient></defs>
<defs><linearGradient id="vg14" x1="0" y1="0" x2="0" y2="1"><stop offset="0.000" stop-color="#2f7ede" stop-opacity="0.00"/><stop offset="0.300" stop-color="#2f7ede" stop-opacity="0.60"/><stop offset="0.600" stop-color="#2f7ede" stop-opacity="0.60"/><stop offset="1.000" stop-color="#2f7ede" stop-opacity="0.00"/></linearGradient></defs>
<defs><linearGradient id="vg15" x1="0" y1="0" x2="0" y2="1"><stop offset="0.000" stop-color="#2f7ede" stop-opacity="0.00"/><stop offset="0.300" stop-color="#2f7ede" stop-opacity="0.48"/><stop offset="0.600" stop-color="#2f7ede" stop-opacity="0.48"/><stop offset="1.000" stop-color="#2f7ede" stop-opacity="0.00"/></linearGradient></defs>
<defs><clipPath id="clipG1"><rect x="19.9" y="381.8" width="217.4" height="241.4"/></clipPath></defs>
<g clip-path="url(#clipG1)">
<rect x="19.9" y="381.8" width="217.4" height="241.4" fill="#04060a"/>
<defs><linearGradient id="vg16" x1="0" y1="0" x2="0" y2="1"><stop offset="0.000" stop-color="#a8541a" stop-opacity="0.30"/><stop offset="0.400" stop-color="#6a3410" stop-opacity="0.22"/><stop offset="0.800" stop-color="#40200a" stop-opacity="0.17"/><stop offset="1.000" stop-color="#2a1405" stop-opacity="0.00"/></linearGradient></defs>
<rect x="30.0" y="417.0" width="17.6" height="51.0" fill="url(#vg16)" filter="url(#b2)"/>
<defs><linearGradient id="vg17" x1="0" y1="0" x2="0" y2="1"><stop offset="0.000" stop-color="#f08a20" stop-opacity="0.52"/><stop offset="0.300" stop-color="#d87a1a" stop-opacity="0.47"/><stop offset="0.750" stop-color="#b05c14" stop-opacity="0.39"/><stop offset="1.000" stop-color="#5a2c0a" stop-opacity="0.00"/></linearGradient></defs>
<rect x="28.0" y="417.0" width="3" height="51.0" fill="url(#vg17)" filter="url(#b2)"/>
<rect x="46.6" y="417.0" width="3" height="51.0" fill="url(#vg17)" filter="url(#b2)"/>
<path d="M27.3 411.0 L29.0 411.0 L32.5 417.0 L26.7 417.0 Z" fill="#ffb040" opacity="0.95" filter="url(#b1)"/>
<path d="M49.4 413.0 L50.8 417.0 L46.6 417.0 Z" fill="#d8791f" opacity="0.7" filter="url(#b1)"/>
<defs><linearGradient id="vg18" x1="0" y1="0" x2="0" y2="1"><stop offset="0.000" stop-color="#3a1c06" stop-opacity="0.00"/><stop offset="0.220" stop-color="#9a4a12" stop-opacity="0.80"/><stop offset="0.500" stop-color="#e07c1c" stop-opacity="1.00"/><stop offset="0.800" stop-color="#b85c14" stop-opacity="0.90"/><stop offset="1.000" stop-color="#3a1c06" stop-opacity="0.00"/></linearGradient></defs>
<rect x="27.7" y="495.5" width="20.6" height="25.5" fill="url(#vg18)" opacity="0.70" filter="url(#b2)"/>
<defs><linearGradient id="vg19" x1="0" y1="0" x2="0" y2="1"><stop offset="0.000" stop-color="#f8a828" stop-opacity="0.00"/><stop offset="0.300" stop-color="#f8a828" stop-opacity="0.90"/><stop offset="0.700" stop-color="#f8a828" stop-opacity="0.90"/><stop offset="1.000" stop-color="#f8a828" stop-opacity="0.00"/></linearGradient></defs>
<rect x="27.7" y="497.5" width="3.2" height="21.5" fill="url(#vg19)" opacity="0.70" filter="url(#b2)"/>
<rect x="45.1" y="497.5" width="3.2" height="21.5" fill="url(#vg19)" opacity="0.70" filter="url(#b2)"/>
<rect x="26.7" y="413.0" width="24.2" height="8" rx="2" fill="#ee8a22" filter="url(#b2)"/>
<rect x="28.2" y="414.8" width="21.2" height="4.4" rx="1.6" fill="#fff4dc" filter="url(#b1)"/>
<g filter="url(#streak)">
<defs><linearGradient id="vg20" x1="0" y1="0" x2="0" y2="1"><stop offset="0.000" stop-color="#1a4c9e" stop-opacity="0.90"/><stop offset="0.100" stop-color="#184896" stop-opacity="0.90"/><stop offset="0.250" stop-color="#1e5cba" stop-opacity="0.95"/><stop offset="0.380" stop-color="#2872da" stop-opacity="1.00"/><stop offset="0.500" stop-color="#2060c0" stop-opacity="1.00"/><stop offset="0.670" stop-color="#15448f" stop-opacity="0.95"/><stop offset="0.810" stop-color="#0c2a62" stop-opacity="0.85"/><stop offset="0.930" stop-color="#061634" stop-opacity="0.60"/><stop offset="1.000" stop-color="#040c20" stop-opacity="0.00"/></linearGradient></defs>
<rect x="60.2" y="420.0" width="21.9" height="172.0" fill="url(#vg20)" opacity="1.00" filter="url(#bx)"/>
<rect x="60.6" y="432.0" width="3.0" height="128.0" fill="url(#vg1)" filter="url(#bx)"/>
<rect x="78.7" y="432.0" width="3.0" height="128.0" fill="url(#vg2)" filter="url(#bx)"/>
<rect x="70.2" y="450.0" width="5.0" height="100.0" fill="url(#vg3)" filter="url(#bx)"/>
<defs><linearGradient id="vg21" x1="0" y1="0" x2="0" y2="1"><stop offset="0.000" stop-color="#1a4c9e" stop-opacity="0.90"/><stop offset="0.100" stop-color="#184896" stop-opacity="0.90"/><stop offset="0.250" stop-color="#1e5cba" stop-opacity="0.95"/><stop offset="0.380" stop-color="#2872da" stop-opacity="1.00"/><stop offset="0.500" stop-color="#2060c0" stop-opacity="1.00"/><stop offset="0.670" stop-color="#15448f" stop-opacity="0.95"/><stop offset="0.810" stop-color="#0c2a62" stop-opacity="0.85"/><stop offset="0.930" stop-color="#061634" stop-opacity="0.60"/><stop offset="1.000" stop-color="#040c20" stop-opacity="0.00"/></linearGradient></defs>
<rect x="89.6" y="420.0" width="21.7" height="172.0" fill="url(#vg21)" opacity="1.00" filter="url(#bx)"/>
<rect x="90.0" y="432.0" width="3.0" height="128.0" fill="url(#vg4)" filter="url(#bx)"/>
<rect x="107.9" y="432.0" width="3.0" height="128.0" fill="url(#vg5)" filter="url(#bx)"/>
<rect x="99.5" y="450.0" width="5.0" height="100.0" fill="url(#vg6)" filter="url(#bx)"/>
<defs><linearGradient id="vg22" x1="0" y1="0" x2="0" y2="1"><stop offset="0.000" stop-color="#1a4c9e" stop-opacity="0.90"/><stop offset="0.100" stop-color="#184896" stop-opacity="0.90"/><stop offset="0.250" stop-color="#1e5cba" stop-opacity="0.95"/><stop offset="0.380" stop-color="#2872da" stop-opacity="1.00"/><stop offset="0.500" stop-color="#2060c0" stop-opacity="1.00"/><stop offset="0.670" stop-color="#15448f" stop-opacity="0.95"/><stop offset="0.810" stop-color="#0c2a62" stop-opacity="0.85"/><stop offset="0.930" stop-color="#061634" stop-opacity="0.60"/><stop offset="1.000" stop-color="#040c20" stop-opacity="0.00"/></linearGradient></defs>
<rect x="119.9" y="420.0" width="20.9" height="172.0" fill="url(#vg22)" opacity="1.00" filter="url(#bx)"/>
<rect x="120.3" y="432.0" width="3.0" height="128.0" fill="url(#vg7)" filter="url(#bx)"/>
<rect x="137.4" y="432.0" width="3.0" height="128.0" fill="url(#vg8)" filter="url(#bx)"/>
<rect x="129.3" y="450.0" width="5.0" height="100.0" fill="url(#vg9)" filter="url(#bx)"/>
<defs><linearGradient id="vg23" x1="0" y1="0" x2="0" y2="1"><stop offset="0.000" stop-color="#10387a" stop-opacity="0.85"/><stop offset="0.200" stop-color="#133f86" stop-opacity="0.90"/><stop offset="0.450" stop-color="#123c82" stop-opacity="0.90"/><stop offset="0.650" stop-color="#0c2e68" stop-opacity="0.80"/><stop offset="0.820" stop-color="#071c44" stop-opacity="0.50"/><stop offset="1.000" stop-color="#040c20" stop-opacity="0.00"/></linearGradient></defs>
<rect x="149.0" y="420.0" width="21.3" height="138.0" fill="url(#vg23)" opacity="0.85" filter="url(#bx)"/>
<rect x="149.4" y="425.0" width="2.6" height="115.0" fill="url(#vg10)" filter="url(#bx)"/>
<rect x="167.3" y="425.0" width="2.6" height="115.0" fill="url(#vg11)" filter="url(#bx)"/>
<defs><linearGradient id="vg24" x1="0" y1="0" x2="0" y2="1"><stop offset="0.000" stop-color="#10387a" stop-opacity="0.85"/><stop offset="0.200" stop-color="#133f86" stop-opacity="0.90"/><stop offset="0.450" stop-color="#123c82" stop-opacity="0.90"/><stop offset="0.650" stop-color="#0c2e68" stop-opacity="0.80"/><stop offset="0.820" stop-color="#071c44" stop-opacity="0.50"/><stop offset="1.000" stop-color="#040c20" stop-opacity="0.00"/></linearGradient></defs>
<rect x="179.2" y="420.0" width="20.2" height="138.0" fill="url(#vg24)" opacity="0.85" filter="url(#bx)"/>
<rect x="179.6" y="425.0" width="2.6" height="115.0" fill="url(#vg12)" filter="url(#bx)"/>
<rect x="196.4" y="425.0" width="2.6" height="115.0" fill="url(#vg13)" filter="url(#bx)"/>
<defs><linearGradient id="vg25" x1="0" y1="0" x2="0" y2="1"><stop offset="0.000" stop-color="#10387a" stop-opacity="0.85"/><stop offset="0.200" stop-color="#133f86" stop-opacity="0.90"/><stop offset="0.450" stop-color="#123c82" stop-opacity="0.90"/><stop offset="0.650" stop-color="#0c2e68" stop-opacity="0.80"/><stop offset="0.820" stop-color="#071c44" stop-opacity="0.50"/><stop offset="1.000" stop-color="#040c20" stop-opacity="0.00"/></linearGradient></defs>
<rect x="208.4" y="420.0" width="21.2" height="138.0" fill="url(#vg25)" opacity="0.85" filter="url(#bx)"/>
<rect x="208.8" y="425.0" width="2.6" height="115.0" fill="url(#vg14)" filter="url(#bx)"/>
<rect x="226.6" y="425.0" width="2.6" height="115.0" fill="url(#vg15)" filter="url(#bx)"/>
</g>
<g filter="url(#u2)">
<path d="M59.6 416.7 Q71.2 417.7 82.7 416.7" stroke="#2f86ee" stroke-width="8.6" fill="none" stroke-linecap="round" opacity="1.00"/>
<path d="M89.0 416.7 Q100.5 417.7 111.9 416.7" stroke="#2f86ee" stroke-width="8.6" fill="none" stroke-linecap="round" opacity="1.00"/>
<path d="M119.3 416.7 Q130.3 417.7 141.4 416.7" stroke="#2f86ee" stroke-width="8.6" fill="none" stroke-linecap="round" opacity="1.00"/>
<path d="M148.4 416.7 Q159.7 417.7 170.9 416.7" stroke="#2f86ee" stroke-width="8.6" fill="none" stroke-linecap="round" opacity="1.00"/>
<path d="M178.6 416.7 Q189.3 417.7 200.0 416.7" stroke="#2f86ee" stroke-width="8.6" fill="none" stroke-linecap="round" opacity="1.00"/>
<path d="M207.8 416.7 Q219.0 417.7 230.2 416.7" stroke="#2f86ee" stroke-width="8.6" fill="none" stroke-linecap="round" opacity="1.00"/>
</g><g filter="url(#u1)">
<path d="M82.3 417.0 L83.2 412.5 M60.0 417.0 L59.5 413.7" stroke="#cfeaff" stroke-width="1.5" fill="none" stroke-linecap="round" opacity="0.9"/>
<path d="M60.2 416.7 Q71.2 417.7 82.1 416.7" stroke="#eaf8ff" stroke-width="4.6" fill="none" stroke-linecap="round" opacity="1.00"/>
<path d="M111.5 417.0 L112.4 412.5 M89.4 417.0 L88.9 413.7" stroke="#cfeaff" stroke-width="1.5" fill="none" stroke-linecap="round" opacity="0.9"/>
<path d="M89.6 416.7 Q100.5 417.7 111.3 416.7" stroke="#eaf8ff" stroke-width="4.6" fill="none" stroke-linecap="round" opacity="1.00"/>
<path d="M141.0 417.0 L141.9 412.5 M119.7 417.0 L119.2 413.7" stroke="#cfeaff" stroke-width="1.5" fill="none" stroke-linecap="round" opacity="0.9"/>
<path d="M119.9 416.7 Q130.3 417.7 140.8 416.7" stroke="#eaf8ff" stroke-width="4.6" fill="none" stroke-linecap="round" opacity="1.00"/>
<path d="M170.5 417.0 L171.4 412.5 M148.8 417.0 L148.3 413.7" stroke="#cfeaff" stroke-width="1.5" fill="none" stroke-linecap="round" opacity="0.9"/>
<path d="M149.0 416.7 Q159.7 417.7 170.3 416.7" stroke="#eaf8ff" stroke-width="4.6" fill="none" stroke-linecap="round" opacity="1.00"/>
<path d="M199.6 417.0 L200.5 412.5 M179.0 417.0 L178.5 413.7" stroke="#cfeaff" stroke-width="1.5" fill="none" stroke-linecap="round" opacity="0.9"/>
<path d="M179.2 416.7 Q189.3 417.7 199.4 416.7" stroke="#eaf8ff" stroke-width="4.6" fill="none" stroke-linecap="round" opacity="1.00"/>
<path d="M229.8 417.0 L230.7 412.5 M208.2 417.0 L207.7 413.7" stroke="#cfeaff" stroke-width="1.5" fill="none" stroke-linecap="round" opacity="0.9"/>
<path d="M208.4 416.7 Q219.0 417.7 229.6 416.7" stroke="#eaf8ff" stroke-width="4.6" fill="none" stroke-linecap="round" opacity="1.00"/>
</g>
</g>
<defs><linearGradient id="vg26" x1="0" y1="0" x2="0" y2="1"><stop offset="0.000" stop-color="#3c8cec" stop-opacity="0.00"/><stop offset="0.300" stop-color="#3c8cec" stop-opacity="0.60"/><stop offset="0.700" stop-color="#3c8cec" stop-opacity="0.60"/><stop offset="1.000" stop-color="#3c8cec" stop-opacity="0.00"/></linearGradient></defs>
<defs><linearGradient id="vg27" x1="0" y1="0" x2="0" y2="1"><stop offset="0.000" stop-color="#3c8cec" stop-opacity="0.00"/><stop offset="0.300" stop-color="#3c8cec" stop-opacity="0.48"/><stop offset="0.700" stop-color="#3c8cec" stop-opacity="0.48"/><stop offset="1.000" stop-color="#3c8cec" stop-opacity="0.00"/></linearGradient></defs>
<defs><linearGradient id="vg28" x1="0" y1="0" x2="0" y2="1"><stop offset="0.000" stop-color="#3c8cec" stop-opacity="0.00"/><stop offset="0.300" stop-color="#3c8cec" stop-opacity="0.60"/><stop offset="0.700" stop-color="#3c8cec" stop-opacity="0.60"/><stop offset="1.000" stop-color="#3c8cec" stop-opacity="0.00"/></linearGradient></defs>
<defs><linearGradient id="vg29" x1="0" y1="0" x2="0" y2="1"><stop offset="0.000" stop-color="#3c8cec" stop-opacity="0.00"/><stop offset="0.300" stop-color="#3c8cec" stop-opacity="0.48"/><stop offset="0.700" stop-color="#3c8cec" stop-opacity="0.48"/><stop offset="1.000" stop-color="#3c8cec" stop-opacity="0.00"/></linearGradient></defs>
<defs><linearGradient id="vg30" x1="0" y1="0" x2="0" y2="1"><stop offset="0.000" stop-color="#3c8cec" stop-opacity="0.00"/><stop offset="0.500" stop-color="#3c8cec" stop-opacity="0.60"/><stop offset="0.850" stop-color="#3c8cec" stop-opacity="0.60"/><stop offset="1.000" stop-color="#3c8cec" stop-opacity="0.00"/></linearGradient></defs>
<defs><linearGradient id="vg31" x1="0" y1="0" x2="0" y2="1"><stop offset="0.000" stop-color="#3c8cec" stop-opacity="0.00"/><stop offset="0.500" stop-color="#3c8cec" stop-opacity="0.48"/><stop offset="0.850" stop-color="#3c8cec" stop-opacity="0.48"/><stop offset="1.000" stop-color="#3c8cec" stop-opacity="0.00"/></linearGradient></defs>
<defs><linearGradient id="vg32" x1="0" y1="0" x2="0" y2="1"><stop offset="0.000" stop-color="#4a9ef6" stop-opacity="0.00"/><stop offset="0.300" stop-color="#4a9ef6" stop-opacity="0.80"/><stop offset="0.650" stop-color="#4a9ef6" stop-opacity="0.80"/><stop offset="1.000" stop-color="#4a9ef6" stop-opacity="0.00"/></linearGradient></defs>
<defs><linearGradient id="vg33" x1="0" y1="0" x2="0" y2="1"><stop offset="0.000" stop-color="#4a9ef6" stop-opacity="0.00"/><stop offset="0.300" stop-color="#4a9ef6" stop-opacity="0.64"/><stop offset="0.650" stop-color="#4a9ef6" stop-opacity="0.64"/><stop offset="1.000" stop-color="#4a9ef6" stop-opacity="0.00"/></linearGradient></defs>
<defs><linearGradient id="vg34" x1="0" y1="0" x2="0" y2="1"><stop offset="0.000" stop-color="#4a9ef6" stop-opacity="0.00"/><stop offset="0.300" stop-color="#4a9ef6" stop-opacity="0.80"/><stop offset="0.650" stop-color="#4a9ef6" stop-opacity="0.80"/><stop offset="1.000" stop-color="#4a9ef6" stop-opacity="0.00"/></linearGradient></defs>
<defs><linearGradient id="vg35" x1="0" y1="0" x2="0" y2="1"><stop offset="0.000" stop-color="#4a9ef6" stop-opacity="0.00"/><stop offset="0.300" stop-color="#4a9ef6" stop-opacity="0.64"/><stop offset="0.650" stop-color="#4a9ef6" stop-opacity="0.64"/><stop offset="1.000" stop-color="#4a9ef6" stop-opacity="0.00"/></linearGradient></defs>
<defs><linearGradient id="vg36" x1="0" y1="0" x2="0" y2="1"><stop offset="0.000" stop-color="#4a9ef6" stop-opacity="0.00"/><stop offset="0.300" stop-color="#4a9ef6" stop-opacity="0.80"/><stop offset="0.650" stop-color="#4a9ef6" stop-opacity="0.80"/><stop offset="1.000" stop-color="#4a9ef6" stop-opacity="0.00"/></linearGradient></defs>
<defs><linearGradient id="vg37" x1="0" y1="0" x2="0" y2="1"><stop offset="0.000" stop-color="#4a9ef6" stop-opacity="0.00"/><stop offset="0.300" stop-color="#4a9ef6" stop-opacity="0.64"/><stop offset="0.650" stop-color="#4a9ef6" stop-opacity="0.64"/><stop offset="1.000" stop-color="#4a9ef6" stop-opacity="0.00"/></linearGradient></defs>
<defs><clipPath id="clipG2"><rect x="271.4" y="383.0" width="218.6" height="241.4"/></clipPath></defs>
<g clip-path="url(#clipG2)">
<rect x="271.4" y="383.0" width="218.6" height="241.4" fill="#040508"/>
<defs><linearGradient id="vg38" x1="0" y1="0" x2="0" y2="1"><stop offset="0.000" stop-color="#a8541a" stop-opacity="0.55"/><stop offset="0.400" stop-color="#6a3410" stop-opacity="0.40"/><stop offset="0.800" stop-color="#40200a" stop-opacity="0.30"/><stop offset="1.000" stop-color="#2a1405" stop-opacity="0.00"/></linearGradient></defs>
<rect x="282.8" y="418.6" width="15.6" height="57.4" fill="url(#vg38)" filter="url(#b2)"/>
<defs><linearGradient id="vg39" x1="0" y1="0" x2="0" y2="1"><stop offset="0.000" stop-color="#f08a20" stop-opacity="0.95"/><stop offset="0.300" stop-color="#d87a1a" stop-opacity="0.85"/><stop offset="0.750" stop-color="#b05c14" stop-opacity="0.70"/><stop offset="1.000" stop-color="#5a2c0a" stop-opacity="0.00"/></linearGradient></defs>
<rect x="280.8" y="418.6" width="3" height="57.4" fill="url(#vg39)" filter="url(#b2)"/>
<rect x="297.4" y="418.6" width="3" height="57.4" fill="url(#vg39)" filter="url(#b2)"/>
<path d="M280.1 406.0 L281.8 406.0 L285.3 418.6 L279.5 418.6 Z" fill="#ffb040" opacity="0.95" filter="url(#b1)"/>
<path d="M300.2 408.0 L301.6 418.6 L297.4 418.6 Z" fill="#d8791f" opacity="0.7" filter="url(#b1)"/>
<defs><linearGradient id="vg40" x1="0" y1="0" x2="0" y2="1"><stop offset="0.000" stop-color="#3a1c06" stop-opacity="0.00"/><stop offset="0.220" stop-color="#9a4a12" stop-opacity="0.80"/><stop offset="0.500" stop-color="#e07c1c" stop-opacity="1.00"/><stop offset="0.800" stop-color="#b85c14" stop-opacity="0.90"/><stop offset="1.000" stop-color="#3a1c06" stop-opacity="0.00"/></linearGradient></defs>
<rect x="278.8" y="502.0" width="18.6" height="33.5" fill="url(#vg40)" opacity="1.00" filter="url(#b2)"/>
<defs><linearGradient id="vg41" x1="0" y1="0" x2="0" y2="1"><stop offset="0.000" stop-color="#f8a828" stop-opacity="0.00"/><stop offset="0.300" stop-color="#f8a828" stop-opacity="0.90"/><stop offset="0.700" stop-color="#f8a828" stop-opacity="0.90"/><stop offset="1.000" stop-color="#f8a828" stop-opacity="0.00"/></linearGradient></defs>
<rect x="278.8" y="504.0" width="3.2" height="29.5" fill="url(#vg41)" opacity="1.00" filter="url(#b2)"/>
<rect x="294.2" y="504.0" width="3.2" height="29.5" fill="url(#vg41)" opacity="1.00" filter="url(#b2)"/>
<rect x="279.5" y="414.6" width="22.2" height="8" rx="2" fill="#ee8a22" filter="url(#b2)"/>
<rect x="281.0" y="416.4" width="19.2" height="4.4" rx="1.6" fill="#fff4dc" filter="url(#b1)"/>
<g filter="url(#streak)">
<defs><linearGradient id="vg42" x1="0" y1="0" x2="0" y2="1"><stop offset="0.000" stop-color="#071a40" stop-opacity="0.00"/><stop offset="0.040" stop-color="#081c44" stop-opacity="0.30"/><stop offset="0.200" stop-color="#0e3070" stop-opacity="0.75"/><stop offset="0.350" stop-color="#1850ae" stop-opacity="1.00"/><stop offset="0.550" stop-color="#174ca6" stop-opacity="1.00"/><stop offset="0.660" stop-color="#0f3478" stop-opacity="0.85"/><stop offset="0.720" stop-color="#0c2a66" stop-opacity="0.80"/><stop offset="0.850" stop-color="#0e3274" stop-opacity="0.80"/><stop offset="0.950" stop-color="#0a2456" stop-opacity="0.60"/><stop offset="1.000" stop-color="#040c20" stop-opacity="0.00"/></linearGradient></defs>
<rect x="311.9" y="432.0" width="20.2" height="178.0" fill="url(#vg42)" opacity="1.00" filter="url(#bx)"/>
<rect x="312.3" y="455.0" width="2.6" height="115.0" fill="url(#vg26)" filter="url(#bx)"/>
<rect x="329.1" y="455.0" width="2.6" height="115.0" fill="url(#vg27)" filter="url(#bx)"/>
<defs><linearGradient id="vg43" x1="0" y1="0" x2="0" y2="1"><stop offset="0.000" stop-color="#071a40" stop-opacity="0.00"/><stop offset="0.040" stop-color="#081c44" stop-opacity="0.30"/><stop offset="0.200" stop-color="#0e3070" stop-opacity="0.75"/><stop offset="0.350" stop-color="#1850ae" stop-opacity="1.00"/><stop offset="0.550" stop-color="#174ca6" stop-opacity="1.00"/><stop offset="0.660" stop-color="#0f3478" stop-opacity="0.85"/><stop offset="0.720" stop-color="#0c2a66" stop-opacity="0.80"/><stop offset="0.850" stop-color="#0e3274" stop-opacity="0.80"/><stop offset="0.950" stop-color="#0a2456" stop-opacity="0.60"/><stop offset="1.000" stop-color="#040c20" stop-opacity="0.00"/></linearGradient></defs>
<rect x="342.0" y="432.0" width="20.3" height="178.0" fill="url(#vg43)" opacity="1.00" filter="url(#bx)"/>
<rect x="342.4" y="455.0" width="2.6" height="115.0" fill="url(#vg28)" filter="url(#bx)"/>
<rect x="359.3" y="455.0" width="2.6" height="115.0" fill="url(#vg29)" filter="url(#bx)"/>
<defs><linearGradient id="vg44" x1="0" y1="0" x2="0" y2="1"><stop offset="0.000" stop-color="#071a40" stop-opacity="0.00"/><stop offset="0.060" stop-color="#081c44" stop-opacity="0.30"/><stop offset="0.200" stop-color="#0b2658" stop-opacity="0.60"/><stop offset="0.400" stop-color="#113a82" stop-opacity="0.85"/><stop offset="0.550" stop-color="#144696" stop-opacity="0.90"/><stop offset="0.680" stop-color="#1650aa" stop-opacity="0.95"/><stop offset="0.800" stop-color="#2062cc" stop-opacity="1.00"/><stop offset="0.930" stop-color="#2468d4" stop-opacity="1.00"/><stop offset="1.000" stop-color="#06142e" stop-opacity="0.00"/></linearGradient></defs>
<rect x="372.2" y="432.0" width="20.2" height="188.0" fill="url(#vg44)" opacity="1.00" filter="url(#bx)"/>
<rect x="372.6" y="500.0" width="2.6" height="118.0" fill="url(#vg30)" filter="url(#bx)"/>
<rect x="389.4" y="500.0" width="2.6" height="118.0" fill="url(#vg31)" filter="url(#bx)"/>
<defs><linearGradient id="vg45" x1="0" y1="0" x2="0" y2="1"><stop offset="0.000" stop-color="#06183a" stop-opacity="0.00"/><stop offset="0.100" stop-color="#0a2658" stop-opacity="0.60"/><stop offset="0.250" stop-color="#113e88" stop-opacity="0.90"/><stop offset="0.400" stop-color="#1a5aba" stop-opacity="1.00"/><stop offset="0.580" stop-color="#1b5cbe" stop-opacity="1.00"/><stop offset="0.720" stop-color="#113c84" stop-opacity="0.85"/><stop offset="0.880" stop-color="#0a2656" stop-opacity="0.60"/><stop offset="1.000" stop-color="#040c20" stop-opacity="0.00"/></linearGradient></defs>
<rect x="401.6" y="428.0" width="19.4" height="168.0" fill="url(#vg45)" opacity="1.00" filter="url(#bx)"/>
<rect x="402.0" y="455.0" width="2.8" height="105.0" fill="url(#vg32)" filter="url(#bx)"/>
<rect x="417.8" y="455.0" width="2.8" height="105.0" fill="url(#vg33)" filter="url(#bx)"/>
<ellipse cx="411.3" cy="508.0" rx="6" ry="14" fill="#4a9af4" opacity="0.45" filter="url(#b3)"/>
<defs><linearGradient id="vg46" x1="0" y1="0" x2="0" y2="1"><stop offset="0.000" stop-color="#06183a" stop-opacity="0.00"/><stop offset="0.100" stop-color="#0a2658" stop-opacity="0.60"/><stop offset="0.250" stop-color="#113e88" stop-opacity="0.90"/><stop offset="0.400" stop-color="#1a5aba" stop-opacity="1.00"/><stop offset="0.580" stop-color="#1b5cbe" stop-opacity="1.00"/><stop offset="0.720" stop-color="#113c84" stop-opacity="0.85"/><stop offset="0.880" stop-color="#0a2656" stop-opacity="0.60"/><stop offset="1.000" stop-color="#040c20" stop-opacity="0.00"/></linearGradient></defs>
<rect x="431.6" y="428.0" width="19.5" height="168.0" fill="url(#vg46)" opacity="1.00" filter="url(#bx)"/>
<rect x="432.0" y="455.0" width="2.8" height="105.0" fill="url(#vg34)" filter="url(#bx)"/>
<rect x="447.9" y="455.0" width="2.8" height="105.0" fill="url(#vg35)" filter="url(#bx)"/>
<ellipse cx="441.4" cy="512.0" rx="6" ry="14" fill="#4a9af4" opacity="0.45" filter="url(#b3)"/>
<defs><linearGradient id="vg47" x1="0" y1="0" x2="0" y2="1"><stop offset="0.000" stop-color="#06183a" stop-opacity="0.00"/><stop offset="0.100" stop-color="#0a2658" stop-opacity="0.60"/><stop offset="0.250" stop-color="#113e88" stop-opacity="0.90"/><stop offset="0.400" stop-color="#1a5aba" stop-opacity="1.00"/><stop offset="0.580" stop-color="#1b5cbe" stop-opacity="1.00"/><stop offset="0.720" stop-color="#113c84" stop-opacity="0.85"/><stop offset="0.880" stop-color="#0a2656" stop-opacity="0.60"/><stop offset="1.000" stop-color="#040c20" stop-opacity="0.00"/></linearGradient></defs>
<rect x="461.0" y="428.0" width="20.3" height="168.0" fill="url(#vg47)" opacity="1.00" filter="url(#bx)"/>
<rect x="461.4" y="455.0" width="2.8" height="105.0" fill="url(#vg36)" filter="url(#bx)"/>
<rect x="478.1" y="455.0" width="2.8" height="105.0" fill="url(#vg37)" filter="url(#bx)"/>
<ellipse cx="471.1" cy="516.0" rx="6" ry="14" fill="#4a9af4" opacity="0.45" filter="url(#b3)"/>
</g>
<g filter="url(#u2)">
<path d="M311.3 418.3 Q322.0 419.3 332.7 418.3" stroke="#2f86ee" stroke-width="7.8" fill="none" stroke-linecap="round" opacity="1.00"/>
<path d="M341.4 418.3 Q352.1 419.3 362.9 418.3" stroke="#2f86ee" stroke-width="7.8" fill="none" stroke-linecap="round" opacity="1.00"/>
<path d="M371.6 418.3 Q382.3 419.3 393.0 418.3" stroke="#2f86ee" stroke-width="7.2" fill="none" stroke-linecap="round" opacity="0.95"/>
<path d="M401.0 418.3 Q411.3 419.3 421.6 418.3" stroke="#2f86ee" stroke-width="8.4" fill="none" stroke-linecap="round" opacity="1.00"/>
<path d="M431.0 418.3 Q441.4 419.3 451.7 418.3" stroke="#2f86ee" stroke-width="8.4" fill="none" stroke-linecap="round" opacity="1.00"/>
<path d="M460.4 418.3 Q471.1 419.3 481.9 418.3" stroke="#2f86ee" stroke-width="8.4" fill="none" stroke-linecap="round" opacity="1.00"/>
</g><g filter="url(#u1)">
<path d="M332.3 418.6 L333.2 414.9 M311.7 418.6 L311.2 415.9" stroke="#cfeaff" stroke-width="1.5" fill="none" stroke-linecap="round" opacity="0.9"/>
<path d="M311.9 418.3 Q322.0 419.3 332.1 418.3" stroke="#eaf8ff" stroke-width="3.8" fill="none" stroke-linecap="round" opacity="1.00"/>
<path d="M362.5 418.6 L363.4 414.9 M341.8 418.6 L341.3 415.9" stroke="#cfeaff" stroke-width="1.5" fill="none" stroke-linecap="round" opacity="0.9"/>
<path d="M342.0 418.3 Q352.1 419.3 362.3 418.3" stroke="#eaf8ff" stroke-width="3.8" fill="none" stroke-linecap="round" opacity="1.00"/>
<path d="M392.6 418.6 L393.5 415.2 M372.0 418.6 L371.5 416.2" stroke="#cfeaff" stroke-width="1.5" fill="none" stroke-linecap="round" opacity="0.9"/>
<path d="M372.2 418.3 Q382.3 419.3 392.4 418.3" stroke="#eaf8ff" stroke-width="3.2" fill="none" stroke-linecap="round" opacity="1.00"/>
<path d="M421.2 418.6 L422.1 414.6 M401.4 418.6 L400.9 415.6" stroke="#cfeaff" stroke-width="1.5" fill="none" stroke-linecap="round" opacity="0.9"/>
<path d="M401.6 418.3 Q411.3 419.3 421.0 418.3" stroke="#eaf8ff" stroke-width="4.4" fill="none" stroke-linecap="round" opacity="1.00"/>
<path d="M451.3 418.6 L452.2 414.6 M431.4 418.6 L430.9 415.6" stroke="#cfeaff" stroke-width="1.5" fill="none" stroke-linecap="round" opacity="0.9"/>
<path d="M431.6 418.3 Q441.4 419.3 451.1 418.3" stroke="#eaf8ff" stroke-width="4.4" fill="none" stroke-linecap="round" opacity="1.00"/>
<path d="M481.5 418.6 L482.4 414.6 M460.8 418.6 L460.3 415.6" stroke="#cfeaff" stroke-width="1.5" fill="none" stroke-linecap="round" opacity="0.9"/>
<path d="M461.0 418.3 Q471.1 419.3 481.3 418.3" stroke="#eaf8ff" stroke-width="4.4" fill="none" stroke-linecap="round" opacity="1.00"/>
</g>
</g>
<defs><linearGradient id="vg48" x1="0" y1="0" x2="0" y2="1"><stop offset="0.000" stop-color="#0a1a38" stop-opacity="0.00"/><stop offset="0.300" stop-color="#0a1a38" stop-opacity="0.55"/><stop offset="0.750" stop-color="#0a1a38" stop-opacity="0.60"/><stop offset="1.000" stop-color="#0a1a38" stop-opacity="0.15"/></linearGradient></defs>
<defs><clipPath id="clipG3"><rect x="519.9" y="382.4" width="218.8" height="242.0"/></clipPath></defs>
<g clip-path="url(#clipG3)">
<rect x="519.9" y="382.4" width="218.8" height="242.0" fill="#050b19"/>
<rect x="519" y="382" width="220" height="243" fill="url(#vg48)"/>
<defs><linearGradient id="vg49" x1="0" y1="0" x2="0" y2="1"><stop offset="0.000" stop-color="#a8541a" stop-opacity="0.50"/><stop offset="0.400" stop-color="#6a3410" stop-opacity="0.36"/><stop offset="0.800" stop-color="#40200a" stop-opacity="0.27"/><stop offset="1.000" stop-color="#2a1405" stop-opacity="0.00"/></linearGradient></defs>
<rect x="535.4" y="419.6" width="16.2" height="54.4" fill="url(#vg49)" filter="url(#b2)"/>
<defs><linearGradient id="vg50" x1="0" y1="0" x2="0" y2="1"><stop offset="0.000" stop-color="#f08a20" stop-opacity="0.85"/><stop offset="0.300" stop-color="#d87a1a" stop-opacity="0.77"/><stop offset="0.750" stop-color="#b05c14" stop-opacity="0.63"/><stop offset="1.000" stop-color="#5a2c0a" stop-opacity="0.00"/></linearGradient></defs>
<rect x="533.4" y="419.6" width="3" height="54.4" fill="url(#vg50)" filter="url(#b2)"/>
<rect x="550.6" y="419.6" width="3" height="54.4" fill="url(#vg50)" filter="url(#b2)"/>
<path d="M532.7 406.0 L534.4 406.0 L537.9 419.6 L532.1 419.6 Z" fill="#ffb040" opacity="0.95" filter="url(#b1)"/>
<path d="M553.4 408.0 L554.8 419.6 L550.6 419.6 Z" fill="#d8791f" opacity="0.7" filter="url(#b1)"/>
<defs><linearGradient id="vg51" x1="0" y1="0" x2="0" y2="1"><stop offset="0.000" stop-color="#3a1c06" stop-opacity="0.00"/><stop offset="0.220" stop-color="#9a4a12" stop-opacity="0.80"/><stop offset="0.500" stop-color="#e07c1c" stop-opacity="1.00"/><stop offset="0.800" stop-color="#b85c14" stop-opacity="0.90"/><stop offset="1.000" stop-color="#3a1c06" stop-opacity="0.00"/></linearGradient></defs>
<rect x="532.9" y="501.0" width="19.2" height="26.0" fill="url(#vg51)" opacity="1.00" filter="url(#b2)"/>
<defs><linearGradient id="vg52" x1="0" y1="0" x2="0" y2="1"><stop offset="0.000" stop-color="#f8a828" stop-opacity="0.00"/><stop offset="0.300" stop-color="#f8a828" stop-opacity="0.90"/><stop offset="0.700" stop-color="#f8a828" stop-opacity="0.90"/><stop offset="1.000" stop-color="#f8a828" stop-opacity="0.00"/></linearGradient></defs>
<rect x="532.9" y="503.0" width="3.2" height="22.0" fill="url(#vg52)" opacity="1.00" filter="url(#b2)"/>
<rect x="548.9" y="503.0" width="3.2" height="22.0" fill="url(#vg52)" opacity="1.00" filter="url(#b2)"/>
<rect x="532.1" y="415.6" width="22.8" height="8" rx="2" fill="#ee8a22" filter="url(#b2)"/>
<rect x="533.6" y="417.4" width="19.8" height="4.4" rx="1.6" fill="#fff4dc" filter="url(#b1)"/>
<g filter="url(#streak3)">
<defs><linearGradient id="vg53" x1="0" y1="0" x2="0" y2="1"><stop offset="0.000" stop-color="#0c2658" stop-opacity="0.00"/><stop offset="0.060" stop-color="#0d2a60" stop-opacity="0.70"/><stop offset="0.300" stop-color="#0d2a62" stop-opacity="0.70"/><stop offset="0.600" stop-color="#0e2e68" stop-opacity="0.80"/><stop offset="0.800" stop-color="#123880" stop-opacity="1.00"/><stop offset="0.920" stop-color="#0e2e68" stop-opacity="0.80"/><stop offset="1.000" stop-color="#06142e" stop-opacity="0.00"/></linearGradient></defs>
<rect x="562.1" y="474.0" width="21.5" height="138.0" fill="url(#vg53)" opacity="0.55" filter="url(#bx3)"/>
<defs><linearGradient id="vg54" x1="0" y1="0" x2="0" y2="1"><stop offset="0.000" stop-color="#0c2658" stop-opacity="0.00"/><stop offset="0.060" stop-color="#0d2a60" stop-opacity="0.70"/><stop offset="0.300" stop-color="#0d2a62" stop-opacity="0.70"/><stop offset="0.600" stop-color="#0e2e68" stop-opacity="0.80"/><stop offset="0.800" stop-color="#123880" stop-opacity="1.00"/><stop offset="0.920" stop-color="#0e2e68" stop-opacity="0.80"/><stop offset="1.000" stop-color="#06142e" stop-opacity="0.00"/></linearGradient></defs>
<rect x="592.1" y="474.0" width="20.0" height="138.0" fill="url(#vg54)" opacity="0.55" filter="url(#bx3)"/>
<defs><linearGradient id="vg55" x1="0" y1="0" x2="0" y2="1"><stop offset="0.000" stop-color="#0c2658" stop-opacity="0.00"/><stop offset="0.060" stop-color="#0d2a60" stop-opacity="0.70"/><stop offset="0.300" stop-color="#0d2a62" stop-opacity="0.70"/><stop offset="0.600" stop-color="#0e2e68" stop-opacity="0.80"/><stop offset="0.800" stop-color="#123880" stop-opacity="1.00"/><stop offset="0.920" stop-color="#0e2e68" stop-opacity="0.80"/><stop offset="1.000" stop-color="#06142e" stop-opacity="0.00"/></linearGradient></defs>
<rect x="620.7" y="474.0" width="21.6" height="138.0" fill="url(#vg55)" opacity="0.55" filter="url(#bx3)"/>
<defs><linearGradient id="vg56" x1="0" y1="0" x2="0" y2="1"><stop offset="0.000" stop-color="#081a40" stop-opacity="0.00"/><stop offset="0.120" stop-color="#0c2a60" stop-opacity="0.50"/><stop offset="0.300" stop-color="#113a80" stop-opacity="0.85"/><stop offset="0.650" stop-color="#134088" stop-opacity="0.90"/><stop offset="0.850" stop-color="#103474" stop-opacity="0.80"/><stop offset="1.000" stop-color="#06142e" stop-opacity="0.00"/></linearGradient></defs>
<rect x="649.1" y="452.0" width="23.4" height="160.0" fill="url(#vg56)" opacity="0.80" filter="url(#bx3)"/>
<defs><linearGradient id="vg57" x1="0" y1="0" x2="0" y2="1"><stop offset="0.000" stop-color="#081a40" stop-opacity="0.00"/><stop offset="0.120" stop-color="#0c2a60" stop-opacity="0.50"/><stop offset="0.300" stop-color="#113a80" stop-opacity="0.85"/><stop offset="0.650" stop-color="#134088" stop-opacity="0.90"/><stop offset="0.850" stop-color="#103474" stop-opacity="0.80"/><stop offset="1.000" stop-color="#06142e" stop-opacity="0.00"/></linearGradient></defs>
<rect x="681.1" y="452.0" width="23.2" height="160.0" fill="url(#vg57)" opacity="0.80" filter="url(#bx3)"/>
<defs><linearGradient id="vg58" x1="0" y1="0" x2="0" y2="1"><stop offset="0.000" stop-color="#081a40" stop-opacity="0.00"/><stop offset="0.100" stop-color="#0e3270" stop-opacity="0.60"/><stop offset="0.300" stop-color="#1850aa" stop-opacity="0.95"/><stop offset="0.480" stop-color="#1c5cc0" stop-opacity="1.00"/><stop offset="0.700" stop-color="#164a9e" stop-opacity="0.95"/><stop offset="0.880" stop-color="#113a80" stop-opacity="0.80"/><stop offset="1.000" stop-color="#06142e" stop-opacity="0.00"/></linearGradient></defs>
<rect x="710.5" y="440.0" width="24.0" height="174.0" fill="url(#vg58)" opacity="1.00" filter="url(#bx3)"/>
</g>
<g filter="url(#u2)">
<path d="M561.5 419.3 Q572.9 420.3 584.2 419.3" stroke="#2f86ee" stroke-width="6.6" fill="none" stroke-linecap="round" opacity="0.85"/>
<path d="M591.5 419.3 Q602.1 420.3 612.7 419.3" stroke="#2f86ee" stroke-width="6.6" fill="none" stroke-linecap="round" opacity="0.85"/>
<path d="M620.1 419.3 Q631.5 420.3 642.9 419.3" stroke="#2f86ee" stroke-width="6.6" fill="none" stroke-linecap="round" opacity="0.85"/>
<path d="M648.5 419.3 Q660.8 420.3 673.1 419.3" stroke="#2f86ee" stroke-width="7.8" fill="none" stroke-linecap="round" opacity="0.95"/>
<path d="M680.5 419.3 Q692.7 420.3 704.9 419.3" stroke="#2f86ee" stroke-width="7.8" fill="none" stroke-linecap="round" opacity="0.95"/>
<path d="M709.9 419.3 Q722.5 420.3 735.1 419.3" stroke="#2f86ee" stroke-width="8.6" fill="none" stroke-linecap="round" opacity="1.00"/>
</g><g filter="url(#u1)">
<path d="M562.1 419.3 Q572.9 420.3 583.6 419.3" stroke="#eaf8ff" stroke-width="2.6" fill="none" stroke-linecap="round" opacity="0.95"/>
<path d="M592.1 419.3 Q602.1 420.3 612.1 419.3" stroke="#eaf8ff" stroke-width="2.6" fill="none" stroke-linecap="round" opacity="0.95"/>
<path d="M620.7 419.3 Q631.5 420.3 642.3 419.3" stroke="#eaf8ff" stroke-width="2.6" fill="none" stroke-linecap="round" opacity="0.95"/>
<path d="M649.1 419.3 Q660.8 420.3 672.5 419.3" stroke="#eaf8ff" stroke-width="3.8" fill="none" stroke-linecap="round" opacity="1.00"/>
<path d="M681.1 419.3 Q692.7 420.3 704.3 419.3" stroke="#eaf8ff" stroke-width="3.8" fill="none" stroke-linecap="round" opacity="1.00"/>
<path d="M710.5 419.3 Q722.5 420.3 734.5 419.3" stroke="#eaf8ff" stroke-width="4.6" fill="none" stroke-linecap="round" opacity="1.00"/>
</g>
</g>
<path d="M69.0 723.8 V719.3 M64.7 719.3 H73.2" stroke="#000" stroke-width="1.10" fill="none"/>
<rect x="62.65" y="724.35" width="12.60" height="22.15" fill="#000" stroke="#000" stroke-width="1.10"/>
<path d="M86.0 688.5 V662.9 M82.0 662.9 H90.1" stroke="#000" stroke-width="1.10" fill="none"/>
<rect x="80.05" y="689.05" width="12.00" height="57.45" fill="#d9dadb" stroke="#000" stroke-width="1.10"/>
<path d="M109.9 713.8 V709.4 M105.7 709.4 H114.1" stroke="#000" stroke-width="1.10" fill="none"/>
<rect x="103.65" y="714.35" width="12.50" height="32.15" fill="#000" stroke="#000" stroke-width="1.10"/>
<path d="M127.0 696.4 V683.5 M123.0 683.5 H131.1" stroke="#000" stroke-width="1.10" fill="none"/>
<rect x="121.05" y="696.95" width="12.00" height="49.55" fill="#d9dadb" stroke="#000" stroke-width="1.10"/>
<path d="M150.9 675.1 V670.9 M146.7 670.9 H155.1" stroke="#000" stroke-width="1.10" fill="none"/>
<rect x="144.65" y="675.65" width="12.50" height="70.85" fill="#000" stroke="#000" stroke-width="1.10"/>
<path d="M168.1 718.3 V705.9 M164.0 705.9 H172.1" stroke="#000" stroke-width="1.10" fill="none"/>
<rect x="162.05" y="718.85" width="12.00" height="27.65" fill="#d9dadb" stroke="#000" stroke-width="1.10"/>
<path d="M191.6 734.2 V729.7 M187.3 729.7 H196.0" stroke="#000" stroke-width="1.10" fill="none"/>
<rect x="185.25" y="734.75" width="12.80" height="11.75" fill="#000" stroke="#000" stroke-width="1.10"/>
<path d="M208.9 744.6 V743.1 M204.7 743.1 H213.1" stroke="#000" stroke-width="1.10" fill="none"/>
<rect x="202.65" y="745.15" width="12.50" height="1.35" fill="#d9dadb" stroke="#000" stroke-width="1.10"/>
<path d="M55.1 634.3 V746.5 M50.9 746.5 H222.7 M50.9 662.9 H55.1 M50.9 690.7 H55.1 M50.9 718.5 H55.1 M50.9 746.5 H55.1 M77.0 746.5 V751.1 M118.5 746.5 V751.1 M159.0 746.5 V751.1 M200.3 746.5 V751.1" stroke="#000" stroke-width="1.15" fill="none"/>
<text x="49.9" y="637.8" font-size="8.30" font-weight="bold" font-style="normal" fill="#000" text-anchor="end" >80</text>
<text x="49.9" y="665.9" font-size="8.30" font-weight="bold" font-style="normal" fill="#000" text-anchor="end" >60</text>
<text x="49.9" y="693.7" font-size="8.30" font-weight="bold" font-style="normal" fill="#000" text-anchor="end" >40</text>
<text x="49.9" y="721.5" font-size="8.30" font-weight="bold" font-style="normal" fill="#000" text-anchor="end" >20</text>
<text x="49.9" y="749.5" font-size="8.30" font-weight="bold" font-style="normal" fill="#000" text-anchor="end" >0</text>
<text x="70.8" y="759.9" font-size="8.60" font-weight="bold" font-style="normal" fill="#000" text-anchor="start" textLength="12.4" lengthAdjust="spacingAndGlyphs" >ZM</text>
<text x="107.3" y="759.9" font-size="8.60" font-weight="bold" font-style="normal" fill="#000" text-anchor="start" textLength="21.9" lengthAdjust="spacingAndGlyphs" >VLDL</text>
<text x="152.8" y="759.9" font-size="8.60" font-weight="bold" font-style="normal" fill="#000" text-anchor="start" textLength="12.4" lengthAdjust="spacingAndGlyphs" >IDL</text>
<text x="191.6" y="759.9" font-size="8.60" font-weight="bold" font-style="normal" fill="#000" text-anchor="start" textLength="16.7" lengthAdjust="spacingAndGlyphs" >LDL</text>
<text transform="translate(32.2 720.4) rotate(-90)" font-size="11.8" font-weight="bold" textLength="76.4" lengthAdjust="spacingAndGlyphs">% Abundance</text>
<path d="M69.0 658.4 H83.7" stroke="#222" stroke-width="1.25"/>
<text x="75.9" y="660.3" font-size="12.00" font-weight="bold" font-style="normal" fill="#222" text-anchor="middle" >**</text>
<path d="M149.8 662.7 H165.2" stroke="#666" stroke-width="1.25"/>
<text x="157.1" y="664.6" font-size="12.00" font-weight="normal" font-style="normal" fill="#666" text-anchor="middle" >***</text>
<rect x="42.2" y="670.3" width="2.9" height="1.2" fill="#222"/>
<path d="M326.0 715.1 V705.6 M321.7 705.6 H330.2" stroke="#000" stroke-width="1.10" fill="none"/>
<rect x="319.65" y="715.65" width="12.60" height="32.45" fill="#000" stroke="#000" stroke-width="1.10"/>
<path d="M342.9 698.2 V692.5 M339.0 692.5 H346.9" stroke="#000" stroke-width="1.10" fill="none"/>
<rect x="337.05" y="698.75" width="11.80" height="49.35" fill="#d9dadb" stroke="#000" stroke-width="1.10"/>
<path d="M367.0 713.6 V699.9 M362.7 699.9 H371.2" stroke="#000" stroke-width="1.10" fill="none"/>
<rect x="360.65" y="714.15" width="12.60" height="33.95" fill="#000" stroke="#000" stroke-width="1.10"/>
<path d="M383.9 699.9 V684.8 M380.0 684.8 H387.9" stroke="#000" stroke-width="1.10" fill="none"/>
<rect x="378.05" y="700.45" width="11.80" height="47.65" fill="#d9dadb" stroke="#000" stroke-width="1.10"/>
<path d="M407.9 667.9 V659.9 M403.7 659.9 H412.1" stroke="#000" stroke-width="1.10" fill="none"/>
<rect x="401.65" y="668.45" width="12.50" height="79.65" fill="#000" stroke="#000" stroke-width="1.10"/>
<path d="M424.9 675.1 V660.7 M421.0 660.7 H428.9" stroke="#000" stroke-width="1.10" fill="none"/>
<rect x="419.05" y="675.65" width="11.80" height="72.45" fill="#d9dadb" stroke="#000" stroke-width="1.10"/>
<path d="M449.0 710.1 V690.2 M444.8 690.2 H453.3" stroke="#000" stroke-width="1.10" fill="none"/>
<rect x="442.75" y="710.65" width="12.60" height="37.45" fill="#000" stroke="#000" stroke-width="1.10"/>
<path d="M466.0 734.4 V728.7 M462.0 728.7 H469.9" stroke="#000" stroke-width="1.10" fill="none"/>
<rect x="460.15" y="734.95" width="11.60" height="13.15" fill="#d9dadb" stroke="#000" stroke-width="1.10"/>
<path d="M312.2 636.3 V748.1 M307.9 748.1 H479.0 M307.9 636.8 H312.2 M307.9 674.1 H312.2 M307.9 711.3 H312.2 M307.9 748.1 H312.2 M334.0 748.1 V752.7 M375.0 748.1 V752.7 M416.0 748.1 V752.7 M457.4 748.1 V752.7" stroke="#000" stroke-width="1.15" fill="none"/>
<text x="306.9" y="639.8" font-size="8.30" font-weight="bold" font-style="normal" fill="#000" text-anchor="end" >60</text>
<text x="306.9" y="677.1" font-size="8.30" font-weight="bold" font-style="normal" fill="#000" text-anchor="end" >40</text>
<text x="306.9" y="714.3" font-size="8.30" font-weight="bold" font-style="normal" fill="#000" text-anchor="end" >20</text>
<text x="306.9" y="751.1" font-size="8.30" font-weight="bold" font-style="normal" fill="#000" text-anchor="end" >0</text>
<text x="328.3" y="759.9" font-size="8.60" font-weight="bold" font-style="normal" fill="#000" text-anchor="start" textLength="12.4" lengthAdjust="spacingAndGlyphs" >ZM</text>
<text x="364.3" y="759.9" font-size="8.60" font-weight="bold" font-style="normal" fill="#000" text-anchor="start" textLength="22.4" lengthAdjust="spacingAndGlyphs" >VLDL</text>
<text x="410.0" y="759.9" font-size="8.60" font-weight="bold" font-style="normal" fill="#000" text-anchor="start" textLength="12.0" lengthAdjust="spacingAndGlyphs" >IDL</text>
<text x="449.7" y="759.9" font-size="8.60" font-weight="bold" font-style="normal" fill="#000" text-anchor="start" textLength="16.1" lengthAdjust="spacingAndGlyphs" >LDL</text>
<text transform="translate(289.0 726.8) rotate(-90)" font-size="11.8" font-weight="bold" textLength="76.6" lengthAdjust="spacingAndGlyphs">% Abundance</text>
<path d="M577.0 693.7 V688.2 M572.7 688.2 H581.2" stroke="#000" stroke-width="1.10" fill="none"/>
<rect x="570.65" y="694.25" width="12.60" height="52.35" fill="#000" stroke="#000" stroke-width="1.10"/>
<path d="M594.1 697.7 V690.2 M590.0 690.2 H598.2" stroke="#000" stroke-width="1.10" fill="none"/>
<rect x="588.05" y="698.25" width="12.10" height="48.35" fill="#d9dadb" stroke="#000" stroke-width="1.10"/>
<path d="M618.0 728.2 V726.2 M613.7 726.2 H622.2" stroke="#000" stroke-width="1.10" fill="none"/>
<rect x="611.65" y="728.75" width="12.60" height="17.85" fill="#000" stroke="#000" stroke-width="1.10"/>
<path d="M635.0 717.6 V714.6 M631.0 714.6 H639.1" stroke="#000" stroke-width="1.10" fill="none"/>
<rect x="629.05" y="718.15" width="12.00" height="28.45" fill="#d9dadb" stroke="#000" stroke-width="1.10"/>
<path d="M658.9 695.7 V693.2 M654.7 693.2 H663.1" stroke="#000" stroke-width="1.10" fill="none"/>
<rect x="652.65" y="696.25" width="12.50" height="50.35" fill="#000" stroke="#000" stroke-width="1.10"/>
<path d="M676.0 676.6 V670.4 M672.0 670.4 H680.1" stroke="#000" stroke-width="1.10" fill="none"/>
<rect x="670.05" y="677.15" width="12.00" height="69.45" fill="#d9dadb" stroke="#000" stroke-width="1.10"/>
<path d="M699.8 683.3 V677.6 M695.6 677.6 H704.0" stroke="#000" stroke-width="1.10" fill="none"/>
<rect x="693.55" y="683.85" width="12.50" height="62.75" fill="#000" stroke="#000" stroke-width="1.10"/>
<path d="M717.0 709.6 V705.6 M712.9 705.6 H721.0" stroke="#000" stroke-width="1.10" fill="none"/>
<rect x="710.95" y="710.15" width="12.00" height="36.45" fill="#d9dadb" stroke="#000" stroke-width="1.10"/>
<path d="M563.4 634.3 V746.6 M559.2 746.6 H730.2 M559.2 634.8 H563.4 M559.2 672.1 H563.4 M559.2 709.4 H563.4 M559.2 746.6 H563.4 M585.3 746.6 V751.2 M626.2 746.6 V751.2 M667.0 746.6 V751.2 M708.4 746.6 V751.2" stroke="#000" stroke-width="1.15" fill="none"/>
<text x="558.2" y="637.8" font-size="8.30" font-weight="bold" font-style="normal" fill="#000" text-anchor="end" >60</text>
<text x="558.2" y="675.1" font-size="8.30" font-weight="bold" font-style="normal" fill="#000" text-anchor="end" >40</text>
<text x="558.2" y="712.4" font-size="8.30" font-weight="bold" font-style="normal" fill="#000" text-anchor="end" >20</text>
<text x="558.2" y="749.6" font-size="8.30" font-weight="bold" font-style="normal" fill="#000" text-anchor="end" >0</text>
<text x="579.5" y="759.9" font-size="8.60" font-weight="bold" font-style="normal" fill="#000" text-anchor="start" textLength="12.0" lengthAdjust="spacingAndGlyphs" >ZM</text>
<text x="615.6" y="759.9" font-size="8.60" font-weight="bold" font-style="normal" fill="#000" text-anchor="start" textLength="21.8" lengthAdjust="spacingAndGlyphs" >VLDL</text>
<text x="660.8" y="759.9" font-size="8.60" font-weight="bold" font-style="normal" fill="#000" text-anchor="start" textLength="11.9" lengthAdjust="spacingAndGlyphs" >IDL</text>
<text x="699.9" y="759.9" font-size="8.60" font-weight="bold" font-style="normal" fill="#000" text-anchor="start" textLength="16.7" lengthAdjust="spacingAndGlyphs" >LDL</text>
<text transform="translate(542.2 729.8) rotate(-90)" font-size="11.8" font-weight="bold" textLength="77.1" lengthAdjust="spacingAndGlyphs">% Abundance</text>
<path d="M617.3 708.1 H635.9" stroke="#222" stroke-width="1.25"/>
<text x="626.2" y="710.0" font-size="12.00" font-weight="bold" font-style="normal" fill="#222" text-anchor="middle" >*</text>
<path d="M658.3 662.9 H676.9" stroke="#222" stroke-width="1.25"/>
<text x="667.2" y="664.8" font-size="12.00" font-weight="bold" font-style="normal" fill="#222" text-anchor="middle" >***</text>
<path d="M702.9 670.9 H722.0" stroke="#222" stroke-width="1.25"/>
<text x="712.1" y="672.8" font-size="12.00" font-weight="bold" font-style="normal" fill="#222" text-anchor="middle" >****</text>
</svg>
</body></html>
